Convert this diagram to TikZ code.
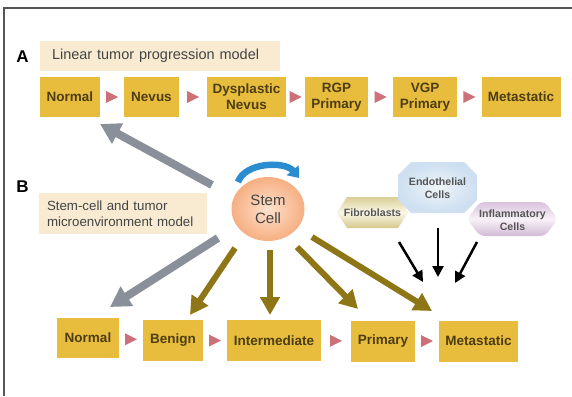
\documentclass[tikz,border=0pt]{standalone}
\usepackage{fontspec}
\setmainfont{Liberation Sans}
\usetikzlibrary{arrows.meta,shapes.geometric,calc}
\definecolor{boxc}{HTML}{E8BD3E}
\definecolor{boxtxt}{HTML}{4D3D12}
\definecolor{tric}{HTML}{CC7079}
\definecolor{beige}{HTML}{F8EBD2}
\definecolor{grayarr}{HTML}{8A9099}
\definecolor{olivec}{HTML}{8E7515}
\definecolor{bluec}{HTML}{2A8DD2}
\definecolor{txtgray}{HTML}{444444}
\definecolor{smalltxt}{HTML}{555555}
\definecolor{borderc}{HTML}{555555}
\begin{document}
\begin{tikzpicture}[x=1pt,y=-1pt,
  box/.style={fill=boxc, text=boxtxt, inner sep=0pt, minimum height=40pt, align=center,
    font=\fontsize{13.5}{16}\selectfont\bfseries},
  titlebox/.style={fill=beige, text=txtgray, inner ysep=0pt, align=left},
  tri/.style={fill=tric},
  grayarrow/.style={draw=grayarr, line width=8pt, -{Triangle[length=20pt,width=22pt]}},
  olivearrow/.style={draw=olivec, line width=6pt, -{Triangle[length=18pt,width=19pt]}},
  blackarrow/.style={draw=black, line width=2.5pt, -{Triangle[length=11pt,width=11pt]}},
  bluearrow/.style={draw=bluec, line width=6.5pt, -{Triangle[length=10pt,width=15pt]}},
  letter/.style={font=\fontsize{17}{19}\selectfont\bfseries, text=black},
  smalllabel/.style={font=\fontsize{10.6}{13}\selectfont\bfseries, text=smalltxt, align=center, inner sep=0pt}
]
\useasboundingbox (0,0) rectangle (572,396);
\fill[white] (0,0) rectangle (572,396);
% frame
\draw[borderc, line width=1.4pt] (4,396) -- (4,8) -- (572,8);

% ---------- Part A ----------
\node[letter] (lA) at (22.5,56.5) {A};
\node[titlebox, minimum width=240pt, minimum height=30pt, text width=216pt, inner xsep=12pt,
  font=\fontsize{14.5}{17}\selectfont] (tA) at (160,56) {Linear tumor progression model};

\node[box, minimum width=60pt] (nA1) at (70,97) {Normal};
\node[box, minimum width=55pt] (nA2) at (151.5,97) {Nevus};
\node[box, minimum width=79pt] (nA3) at (246.5,97) {Dysplastic\\Nevus};
\node[box, minimum width=63pt] (nA4) at (336.5,97) {RGP\\Primary};
\node[box, minimum width=64pt] (nA5) at (425,97) {VGP\\Primary};
\node[box, minimum width=79pt] (nA6) at (521,97) {Metastatic};

\foreach \a/\b in {nA1/nA2,nA2/nA3,nA3/nA4,nA4/nA5,nA5/nA6}{
  \fill[tri] ($(\a.east)!.5!(\b.west)$) +(-6,-6) -- +(6,0) -- +(-6,6) -- cycle;
}

% ---------- Part B ----------
\node[letter] (lB) at (22.5,186.5) {B};
\node[titlebox, minimum width=168pt, minimum height=41pt, text width=152pt, inner xsep=8pt,
  font=\fontsize{13.3}{16}\selectfont] (tB) at (123,213.5) {Stem-cell and tumor\\microenvironment model};

\node[box, minimum width=62pt] (nB1) at (88,338) {Normal};
\node[box, minimum width=60pt, minimum height=41pt] (nB2) at (173,340.5) {Benign};
\node[box, minimum width=94pt, minimum height=41pt] (nB3) at (274,340.5) {Intermediate};
\node[box, minimum width=64pt, minimum height=41pt] (nB4) at (383,341) {Primary};
\node[box, minimum width=79pt, minimum height=41pt] (nB5) at (478.5,341) {Metastatic};

\foreach \a/\b in {nB1/nB2,nB2/nB3,nB3/nB4,nB4/nB5}{
  \fill[tri] ($(\a.east)!.5!(\b.west)$) +(-6,-6) -- +(6,0) -- +(-6,6) -- cycle;
}

% stem cell
\node[ellipse, minimum width=73pt, minimum height=64pt, inner color={rgb,255:red,253;green,225;blue,205},
  outer color={rgb,255:red,246;green,175;blue,130}, text=txtgray,
  font=\fontsize{15}{18}\selectfont, align=center] (sc) at (268,209) {Stem\\Cell};

% self-renewal arc
\coordinate (bs) at (238,182);
\coordinate (be) at (299,178);
\draw[bluearrow] (bs) .. controls (245,162) and (285,161) .. (be);

% microenvironment shapes
\shade[top color={rgb,255:red,218;green,206;blue,150}, bottom color={rgb,255:red,214;green,200;blue,140},
  middle color={rgb,255:red,250;green,247;blue,232}]
  (337,212.5) -- (347,197) -- (398,197) -- (408,212.5) -- (398,228) -- (347,228) -- cycle;
\shade[inner color={rgb,255:red,238;green,244;blue,250}, outer color={rgb,255:red,205;green,223;blue,240}]
  (411,162) -- (464,162) -- (477,175) -- (477,200) -- (464,213) -- (411,213) -- (398,200) -- (398,175) -- cycle;
\shade[top color={rgb,255:red,216;green,194;blue,220}, bottom color={rgb,255:red,210;green,186;blue,214},
  middle color={rgb,255:red,248;green,242;blue,248}, rounded corners=5pt]
  (467,219) -- (480,202) -- (545,202) -- (558,219) -- (545,236) -- (480,236) -- cycle;

\node[smalllabel] (fib) at (372.5,213) {Fibroblasts};
\node[smalllabel] (endo) at (437.5,188) {Endothelial\\Cells};
\node[smalllabel] (infl) at (512.5,220) {Inflammatory\\Cells};

% gray arrows
\coordinate (gAs) at (212,185);
\coordinate (gAe) at (100,124);
\draw[grayarrow] (gAs) -- (gAe);
\coordinate (gBs) at (218,238);
\coordinate (gBe) at (110,307);
\draw[grayarrow] (gBs) -- (gBe);

% olive arrows
\coordinate (o1s) at (235,248); \coordinate (o1e) at (190,315);
\coordinate (o2s) at (270,250); \coordinate (o2e) at (270,315);
\coordinate (o3s) at (297,247); \coordinate (o3e) at (358,309);
\coordinate (o4s) at (312,237); \coordinate (o4e) at (432,311);
\draw[olivearrow] (o1s) -- (o1e);
\draw[olivearrow] (o2s) -- (o2e);
\draw[olivearrow] (o3s) -- (o3e);
\draw[olivearrow] (o4s) -- (o4e);

% black arrows
\coordinate (k1s) at (399,242); \coordinate (k1e) at (423,282);
\coordinate (k2s) at (438,228); \coordinate (k2e) at (438,277);
\coordinate (k3s) at (477,242); \coordinate (k3e) at (455,283);
\draw[blackarrow] (k1s) -- (k1e);
\draw[blackarrow] (k2s) -- (k2e);
\draw[blackarrow] (k3s) -- (k3e);
\end{tikzpicture}
\end{document}
